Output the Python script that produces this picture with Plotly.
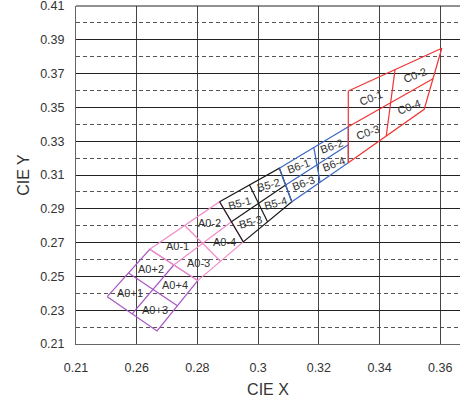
import plotly.graph_objects as go

# Bin groups: corners ordered start-upper, end-upper, end-lower, start-lower
group_names = ["A0+", "A0-", "B5", "B6", "C0"]
group_colors = ["#A855C4", "#F28DC9", "#1A1A1A", "#3A66C4", "#F03434"]
label_angles = [0, 0, -15, -20, -20]

A0p_x = [0.2503, 0.2643, 0.2801, 0.2667]
A0p_y = [0.2380, 0.2660, 0.2475, 0.2177]
A0m_x = [0.2643, 0.2873, 0.2951, 0.2801]
A0m_y = [0.2660, 0.2942, 0.2704, 0.2475]
B5_x = [0.2873, 0.3070, 0.3111, 0.2951]
B5_y = [0.2942, 0.3140, 0.2942, 0.2704]
B6_x = [0.3070, 0.3297, 0.3297, 0.3111]
B6_y = [0.3140, 0.3385, 0.3173, 0.2942]
C0_x = [0.3297, 0.3605, 0.3547, 0.3297]
C0_y = [0.3597, 0.3850, 0.3489, 0.3173]

group_x = [A0p_x, A0m_x, B5_x, B6_x, C0_x]
group_y = [A0p_y, A0m_y, B5_y, B6_y, C0_y]

x_tickvals = [0.24, 0.26, 0.28, 0.30, 0.32, 0.34, 0.36]
x_ticktext = ["0.21", "0.26", "0.28", "0.3", "0.32", "0.34", "0.36"]
y_tickvals = [0.21, 0.23, 0.25, 0.27, 0.29, 0.31, 0.33, 0.35, 0.37, 0.39, 0.41]
y_ticktext = ["0.21", "0.23", "0.25", "0.27", "0.29", "0.31", "0.33", "0.35", "0.37", "0.39", "0.41"]

FONT = "Arial, Liberation Sans, sans-serif"


def mid(p, q):
    return ((p[0] + q[0]) / 2, (p[1] + q[1]) / 2)


fig = go.Figure()
annotations = []
for name, col, ang, xs, ys in zip(group_names, group_colors, label_angles, group_x, group_y):
    a, b, c, d = [(xs[i], ys[i]) for i in range(4)]
    mab, mbc, mcd, mda = mid(a, b), mid(b, c), mid(c, d), mid(d, a)
    ctr = ((a[0] + b[0] + c[0] + d[0]) / 4, (a[1] + b[1] + c[1] + d[1]) / 4)
    px = [a[0], b[0], c[0], d[0], a[0], None, mab[0], mcd[0], None, mda[0], mbc[0]]
    py = [a[1], b[1], c[1], d[1], a[1], None, mab[1], mcd[1], None, mda[1], mbc[1]]
    fig.add_trace(go.Scatter(x=px, y=py, mode="lines", line=dict(color=col, width=1.2),
                             hoverinfo="skip", showlegend=False))
    subs = {
        "1": (a, mab, ctr, mda),
        "2": (mab, b, mbc, ctr),
        "3": (mda, ctr, mcd, d),
        "4": (ctr, mbc, c, mcd),
    }
    sep = "" if name.endswith(("+", "-")) else "-"
    for k, q in subs.items():
        lx = sum(p[0] for p in q) / 4
        ly = sum(p[1] for p in q) / 4
        annotations.append(dict(x=lx, y=ly, text=f"{name}{sep}{k}", showarrow=False,
                                textangle=ang, font=dict(family=FONT, size=11, color="#333333"),
                                xref="x", yref="y"))

fig.update_layout(
    width=460, height=405,
    margin=dict(l=76, r=0, t=6, b=61),
    paper_bgcolor="white", plot_bgcolor="white",
    annotations=annotations,
    font=dict(family=FONT, size=12, color="#333333"),
    shapes=[dict(type="line", xref="paper", yref="paper", x0=0, x1=1, y0=1, y1=1,
                 line=dict(color="#222222", width=1), layer="above")],
    xaxis=dict(
        range=[0.24, 0.3665], tickvals=x_tickvals, ticktext=x_ticktext,
        showgrid=True, gridcolor="#444444", gridwidth=1,
        showline=True, linecolor="#666666", linewidth=1, mirror=False,
        ticks="", zeroline=False, ticklabelstandoff=12, ticklabeloverflow="allow",
        tickfont=dict(family=FONT, size=12.5, color="#333333"),
        title=dict(text="CIE X", font=dict(family=FONT, size=16, color="#333333"), standoff=9),
    ),
    yaxis=dict(
        range=[0.2099999, 0.4100001], tickvals=y_tickvals, ticktext=y_ticktext,
        showgrid=True, gridcolor="#222222", gridwidth=1,
        showline=True, linecolor="#666666", linewidth=1,
        ticks="", zeroline=False, ticklabelstandoff=8, ticklabeloverflow="allow",
        tickfont=dict(family=FONT, size=12.5, color="#333333"),
        minor=dict(tick0=0.22, dtick=0.02, showgrid=True, griddash="4px,3px",
                   gridcolor="#555555", gridwidth=1),
        title=dict(text="CIE Y", font=dict(family=FONT, size=16, color="#333333"), standoff=6),
    ),
)

fig.write_html("out.html")
